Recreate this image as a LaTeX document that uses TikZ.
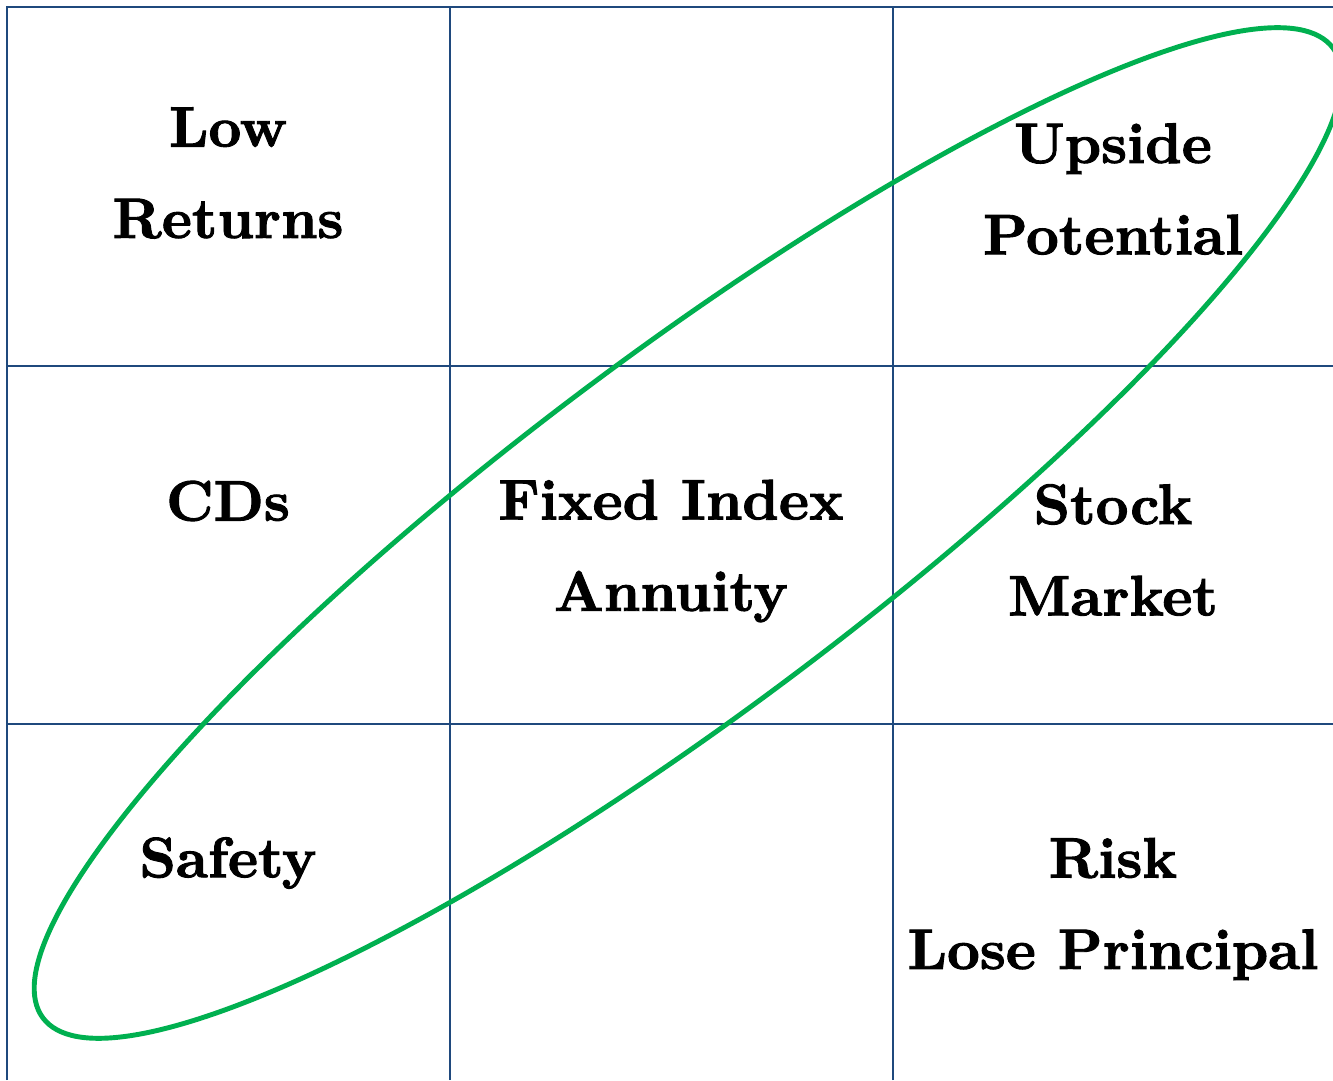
\documentclass[tikz,border=0pt]{standalone}
\usepackage{fontspec}
\usepackage{tikz}
\usepackage{color}
\newfontfamily\heavyfont{lmroman10-bold.otf}[FakeBold=1.6]
\definecolor{mygridblue}{RGB}{31,73,125}
\definecolor{mygreen}{RGB}{0,176,80}
\newcommand{\cellfont}{\fontsize{32.5}{52}\selectfont\heavyfont}
\newcommand{\colA}{228}
\newcommand{\colB}{671}
\newcommand{\colC}{1113}
\tikzset{
    gridline/.style={draw=mygridblue, line width=1.2pt},
    oval/.style={draw=mygreen, line width=2.8pt},
    cell/.style={align=center, font=\cellfont}
}

\begin{document}
\begin{tikzpicture}[x=0.02cm, y=0.02cm]
            \clip (0,0) rectangle (1333,1080);
            \fill[white] (0,0) rectangle (1333,1080);

            % table lines
            \draw[gridline] (7,0) -- (7,1073) -- (1333,1073);
            \draw[gridline] (450,0) -- (450,1073);
            \draw[gridline] (893,0) -- (893,1073);
            \draw[gridline] (7,714) -- (1333,714);
            \draw[gridline] (7,356) -- (1333,356);

            % green ring round the diagonal
            \draw[oval, rotate around={36.94:(688,547)}] (688,547) ellipse [x radius=807, y radius=177];

            \node[cell] (low) at (\colA,907) {Low\\Returns};
            \node[cell] (upside) at (\colC,891) {Upside\\Potential};
            \node[cell] (cds) at (\colA,579) {CDs};
            \node[cell] (fixed) at (\colB,529) {Fixed Index\\Annuity};
            \node[cell] (stock) at (\colC,530) {Stock\\Market};
            \node[cell] (safety) at (\colA,217) {Safety};
            \node[cell] (risk) at (\colC,171) {Risk\\Lose Principal};
        \end{tikzpicture}
\end{document}
